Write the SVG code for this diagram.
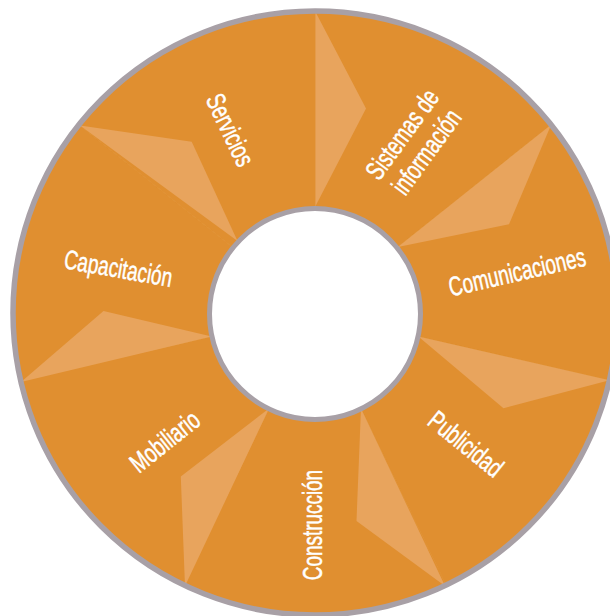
<svg xmlns="http://www.w3.org/2000/svg" width="610" height="616" viewBox="0 0 610 616">
<style>
.seg{fill:#E08F30;stroke:#E08F30;stroke-width:0.8}
.tri{fill:#E8A45D}
.lbl{font-family:"Liberation Sans",Arial,sans-serif;font-size:27px;fill:#FFFFFF;stroke:#FFFFFF;stroke-width:0.5;text-anchor:middle}
.rim{fill:none;stroke:#A8A0A6;stroke-width:5.5}
.hole{fill:#FFFFFF;stroke:#A8A0A6;stroke-width:5}
</style>
<rect width="610" height="616" fill="#FFFFFF"/>
<g id="seg-sistemas">
<path class="seg" d="M315 313 L315 11 A302 302 0 0 1 551.11 124.71 Z"/>
<polygon class="tri" points="315,11 366,108.5 315,207"/>
<g class="lbl" transform="translate(421.8,148.4) rotate(-54) scale(0.7,1)">
<text x="0" y="-15">Sistemas de</text>
<text x="0" y="15">información</text>
</g>
</g>
<g id="seg-comunicaciones">
<path class="seg" d="M315 313 L551.11 124.71 A302 302 0 0 1 609.43 380.2 Z"/>
<polygon class="tri" points="551.11,124.71 509,224.3 397.87,246.91"/>
<text class="lbl" transform="translate(519.2,280.9) rotate(-12.86) scale(0.7,1)">Comunicaciones</text>
</g>
<g id="seg-publicidad">
<path class="seg" d="M315 313 L609.43 380.2 A302 302 0 0 1 446.03 585.09 Z"/>
<polygon class="tri" points="609.43,380.2 503.5,408.3 418.34,336.59"/>
<text class="lbl" transform="translate(460,451.2) rotate(39) scale(0.7,1)">Publicidad</text>
</g>
<g id="seg-construccion">
<path class="seg" d="M315 313 L446.03 585.09 A302 302 0 0 1 183.97 585.09 Z"/>
<polygon class="tri" points="445,586 356.5,521 360.99,408.5"/>
<text class="lbl" transform="translate(321.5,525) rotate(-90) scale(0.7,1)">Construcción</text>
</g>
<g id="seg-mobiliario">
<path class="seg" d="M315 313 L183.97 585.09 A302 302 0 0 1 20.57 380.2 Z"/>
<polygon class="tri" points="185,586 180.8,476.5 269.01,408.5"/>
<text class="lbl" transform="translate(170.6,448.7) rotate(-38.57) scale(0.7,1)">Mobiliario</text>
</g>
<g id="seg-capacitacion">
<path class="seg" d="M315 313 L20.57 380.2 A302 302 0 0 1 78.89 124.71 Z"/>
<polygon class="tri" points="21,382 103.5,311 211.66,336.59"/>
<text class="lbl" transform="translate(116.7,277.5) rotate(10) scale(0.7,1)">Capacitación</text>
</g>
<g id="seg-servicios">
<path class="seg" d="M315 313 L78.89 124.71 A302 302 0 0 1 315 11 Z"/>
<polygon class="tri" points="80,125.5 191.7,141.7 237.5,241"/>
<text class="lbl" transform="translate(221.9,133.9) rotate(64.3) scale(0.7,1)">Servicios</text>
</g>
<g id="connectors"></g>
<g id="rim">
<circle class="rim" cx="315" cy="313" r="302"/>
<circle class="hole" cx="315" cy="314" r="105.5"/>
</g>
</svg>
